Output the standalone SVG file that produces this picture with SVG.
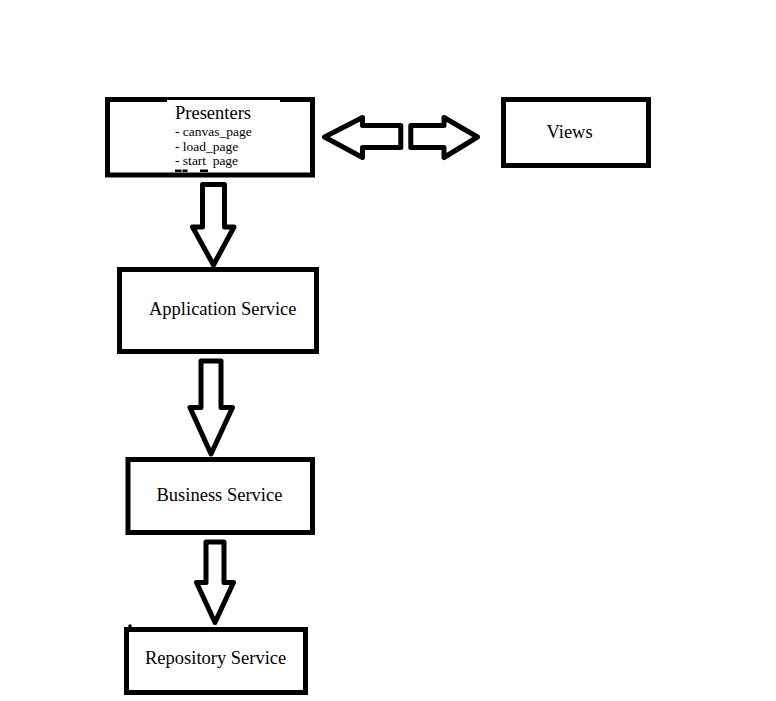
<svg xmlns="http://www.w3.org/2000/svg" width="776" height="701" viewBox="0 0 776 701">
  <style>
    .box { fill: #ffffff; stroke: #000000; stroke-width: 5; }
    .arrow { fill: #ffffff; stroke: #000000; stroke-width: 5; stroke-linejoin: round; }
    .title { font-family: "Liberation Serif", "Times New Roman", serif; font-size: 18.5px; fill: #000000; }
    .item { font-family: "Liberation Serif", "Times New Roman", serif; font-size: 13.5px; fill: #000000; }
  </style>
  <rect width="776" height="701" fill="#ffffff"/>

  <!-- block arrows between layers -->
  <g id="connectors">
    <path class="arrow" d="M400.8,125.5 H362.5 V117.5 L324.5,137 L362.5,157.5 V147.5 H400.8 Z"/>
    <path class="arrow" d="M410.8,125.5 H444 V117.5 L477.5,137 L444,157.5 V147.5 H410.8 Z"/>
    <path class="arrow" d="M202.5,184.5 H224.5 V227 H234 L213.5,265 L192.5,227 H202.5 Z"/>
    <path class="arrow" d="M201,361 H221 V407.5 H232.5 L211,454 L190,407.5 H201 Z"/>
    <path class="arrow" d="M206,542 H224 V582.5 H233.5 L215,622.5 L196.5,582.5 H206 Z"/>
  </g>

  <g id="presenters">
    <rect class="box" x="107.5" y="99.5" width="205" height="75.5"/>
    <!-- text frame sitting over the top edge -->
    <rect x="167" y="100" width="113" height="4" fill="#ffffff"/>
    <text class="title" x="175" y="119">Presenters</text>
    <text class="item" x="175" y="136">- canvas_page</text>
    <text class="item" x="175" y="150.5">- load_page</text>
    <text class="item" x="175" y="165">- start<tspan dx="6.5">page</tspan></text>
    <!-- clipped tops of a further list line -->
    <g fill="#000000">
      <rect x="175" y="169.5" width="6.5" height="2.5"/>
      <rect x="182.5" y="169.5" width="5" height="2.5"/>
      <rect x="200" y="169.5" width="8" height="2.5"/>
    </g>
  </g>

  <g id="views">
    <rect class="box" x="503.5" y="99.5" width="145" height="66"/>
    <text class="title" x="546.5" y="138">Views</text>
  </g>

  <g id="application-service">
    <rect class="box" x="119.5" y="269.5" width="197" height="82"/>
    <text class="title" x="149" y="314.5">Application Service</text>
  </g>

  <g id="business-service">
    <rect class="box" x="128" y="459.5" width="184.5" height="73"/>
    <text class="title" x="156.5" y="500.5">Business Service</text>
  </g>

  <g id="repository-service">
    <rect class="box" x="126.5" y="629.5" width="179" height="63"/>
    <circle cx="130" cy="626" r="1.8" fill="#000000"/>
    <text class="title" x="145" y="663.5">Repository Service</text>
  </g>
</svg>
